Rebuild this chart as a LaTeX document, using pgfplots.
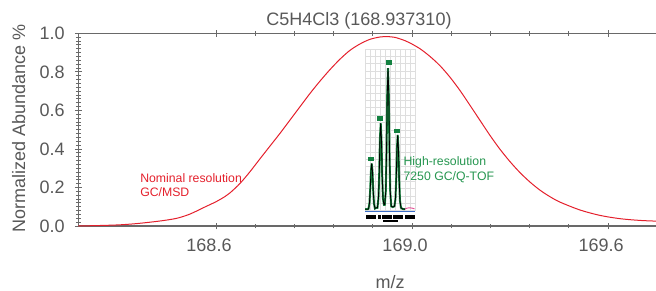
\documentclass[border=0pt]{standalone}
\usepackage{fontspec}
\setmainfont{Liberation Sans}
\usepackage{pgfplots}
\pgfplotsset{compat=1.18}
\definecolor{axisgray}{RGB}{105,105,105}
\definecolor{labelgray}{RGB}{88,88,88}
\definecolor{nomred}{RGB}{228,32,44}
\definecolor{hrgreen}{RGB}{38,150,80}
\definecolor{hrline}{RGB}{25,135,65}
\definecolor{mkgreen}{RGB}{20,130,65}
\definecolor{gridgray}{RGB}{222,222,222}
\definecolor{baseblue}{RGB}{60,110,200}
\definecolor{tailpink}{RGB}{230,80,150}
\begin{document}
\begin{tikzpicture}
\path[use as bounding box] (0,0) rectangle (492pt,217.5pt);
\begin{axis}[
  at={(58.725pt,48pt)}, anchor=south west, scale only axis,
  width=441.4pt, height=144.5pt,
  xmin=168.319, xmax=169.52, ymin=0, ymax=1.0,
  xtick={168.6,169.0,169.4}, xticklabels={168.6,169.0,169.6},
  minor x tick num=4,
  ytick={0,0.2,0.4,0.6,0.8,1.0}, yticklabels={0.0,0.2,0.4,0.6,0.8,1.0},
  minor y tick num=9,
  ytick pos=left,
  tick align=center,
  major tick length=5pt, minor tick length=3.5pt,
  axis line style={draw=axisgray, line width=0.9pt},
  every tick/.style={draw=axisgray, line width=0.6pt},
  tick label style={font=\fontsize{13.5}{16}\selectfont, text=labelgray},
  xticklabel style={xshift=-5.25pt, yshift=-3.75pt},
  yticklabel style={xshift=-4.2pt},
  /pgf/number format/assume math mode=true,
]
\addplot[nomred, line width=0.75pt, smooth] coordinates {
(168.319,0) (168.3633,0.0026) (168.4041,0.0062) (168.4402,0.013) (168.4857,0.026)
(168.5198,0.040) (168.5469,0.062) (168.5776,0.099) (168.6,0.126) (168.6184,0.153)
(168.6286,0.172) (168.6490,0.221) (168.6694,0.282) (168.6898,0.349) (168.7102,0.415)
(168.7306,0.481) (168.7510,0.550) (168.7714,0.619) (168.7918,0.688) (168.8122,0.752)
(168.8327,0.812) (168.8531,0.866) (168.8735,0.912) (168.8939,0.945) (168.9143,0.969)
(168.9347,0.981) (168.9490,0.983) (168.9653,0.979) (168.9857,0.962) (168.9959,0.950)
(169.0163,0.920) (169.0367,0.880) (169.0571,0.832) (169.0776,0.772) (169.0980,0.703)
(169.1184,0.626) (169.1388,0.548) (169.1592,0.470) (169.1796,0.398) (169.2,0.334)
(169.2204,0.277) (169.2408,0.228) (169.2612,0.186) (169.2816,0.152) (169.3020,0.124)
(169.3429,0.083) (169.3837,0.055) (169.4245,0.038) (169.4653,0.029) (169.5061,0.025)
(169.5878,0.023)
};
\end{axis}
\begin{axis}[
  at={(273.75pt,59.475pt)}, anchor=south west, scale only axis,
  width=37.5pt, height=121.3pt,
  xmin=168.9, xmax=169.0, ymin=0, ymax=1.1,
  xtick distance=0.01, ytick distance=0.05,
  grid=major, grid style={gridgray, line width=0.5pt},
  axis line style={draw=none},
  xticklabels={}, yticklabels={},
  major tick length=0pt, minor tick length=0pt,
  clip=false,
]
\addplot[baseblue, line width=0.8pt] coordinates {(168.9,-0.005) (169.0,-0.005)};
\addplot[tailpink, line width=0.7pt, smooth] coordinates {
(168.978,0.01) (168.985,0.018) (168.990,0.02) (168.995,0.017) (168.999,0.012)};
\pgfplotstableread{
x y
168.900 0.010
168.905 0.010
168.9069 0.012
168.9089 0.05
168.9104 0.14
168.9119 0.27
168.9134 0.322
168.9149 0.27
168.9164 0.14
168.9179 0.05
168.9199 0.015
168.9222 0.02
168.9249 0.02
168.9269 0.085
168.9284 0.24
168.9299 0.49
168.9314 0.595
168.9329 0.49
168.9344 0.24
168.9359 0.085
168.9379 0.04
168.9387 0.04
168.9395 0.04
168.9415 0.13
168.9430 0.39
168.9445 0.795
168.9460 0.969
168.9475 0.795
168.9490 0.39
168.9505 0.13
168.9525 0.03
168.9555 0.025
168.9589 0.03
168.9609 0.08
168.9624 0.21
168.9639 0.42
168.9654 0.515
168.9669 0.42
168.9684 0.21
168.9699 0.07
168.9719 0.02
168.975 0.012
168.980 0.010
}\hrdata
\addplot[hrline, line width=1.5pt] table[x=x,y=y] {\hrdata};
\addplot[black, line width=0.6pt] table[x=x,y=y] {\hrdata};
\addplot[mkgreen, only marks, mark=square*, mark size=1.25pt, mark options={xscale=1.5, fill=mkgreen, draw=mkgreen, line width=0pt}] coordinates {
(168.9126,0.350) (168.9306,0.626) (168.947,1.007) (168.9646,0.544)};
\addplot[black, only marks, mark=square*, mark size=0.9pt, mark options={yscale=1.4, fill=black, draw=black, line width=0pt}] coordinates {
(168.9046,-0.042) (168.912,-0.042) (168.9194,-0.042) (168.9294,-0.042) (168.9366,-0.042)
(168.944,-0.042) (168.9514,-0.042) (168.9586,-0.042) (168.966,-0.042) (168.9734,-0.042)
(168.9826,-0.042) (168.99,-0.042) (168.9974,-0.042)};
\addplot[black, line width=1.3pt] coordinates {(168.9366,-0.071) (168.9654,-0.071)};
\end{axis}
\node[anchor=base, text=labelgray, font=\fontsize{13.5}{16}\selectfont] at (269.25pt,198pt) {C5H4Cl3 (168.937310)};
\node[anchor=base, text=labelgray, font=\fontsize{13.5}{16}\selectfont] at (292.5pt,1.5pt) {m/z};
\node[anchor=base, rotate=90, text=labelgray, font=\fontsize{13.5}{16}\selectfont] at (18.75pt,121.5pt) {Normalized Abundance \%};
\node[anchor=base west, text=nomred, font=\fontsize{9.2}{11}\selectfont, inner sep=0pt] at (105pt,81pt) {Nominal resolution};
\node[anchor=base west, text=nomred, font=\fontsize{9.2}{11}\selectfont, inner sep=0pt] at (105pt,70pt) {GC/MSD};
\node[anchor=base west, text=hrgreen, font=\fontsize{9.2}{11}\selectfont, inner sep=0pt] at (302.5pt,93.75pt) {High-resolution};
\node[anchor=base west, text=hrgreen, font=\fontsize{9.2}{11}\selectfont, inner sep=0pt] at (302.5pt,82.5pt) {7250 GC/Q-TOF};
\end{tikzpicture}
\end{document}
